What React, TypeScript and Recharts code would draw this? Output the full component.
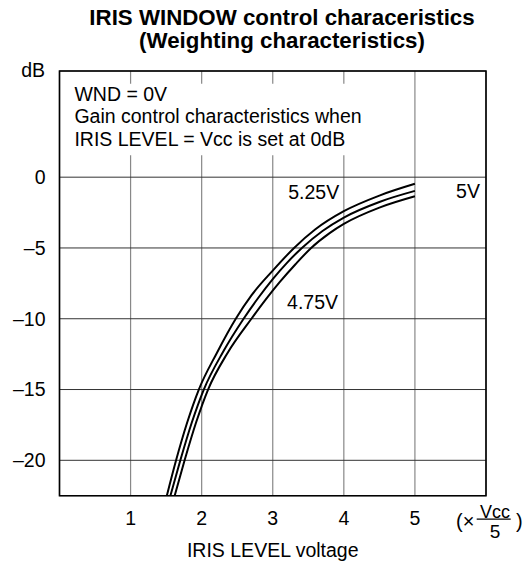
import React from 'react';
import { LineChart, Line, XAxis, YAxis, CartesianGrid, ReferenceArea, ReferenceDot } from 'recharts';

// ---- data ----
const xTicks = [1, 2, 3, 4, 5];
const yTicks = [-20, -15, -10, -5, 0];

const seriesNames = ['5.25V', '5V', '4.75V'];

const v525X = [1.51, 1.64, 1.795, 1.96, 2.21, 2.48, 2.7, 3.0, 3.3, 3.6, 4.0, 4.5, 5.0];
const v525Y = [-22.5, -20, -17.35, -15, -12.45, -10, -8.35, -6.6, -5.0, -3.68, -2.4, -1.3, -0.47];

const v500X = [1.56, 1.7, 1.86, 2.03, 2.3, 2.59, 2.8, 3.0, 3.2, 3.41, 3.7, 4.0, 4.5, 5.0];
const v500Y = [-22.5, -20, -17.35, -15, -12.35, -10, -8.5, -7.2, -6.05, -5.0, -3.8, -2.85, -1.75, -0.97];

const v475X = [1.62, 1.76, 1.92, 2.09, 2.36, 2.7, 2.9, 3.1, 3.32, 3.54, 3.8, 4.0, 4.5, 5.0];
const v475Y = [-22.5, -20, -17.35, -15, -12.45, -10, -8.65, -7.4, -6.15, -5.0, -3.95, -3.3, -2.15, -1.35];

const noteLines = ['WND = 0V', 'Gain control characteristics when', 'IRIS LEVEL = Vcc is set at 0dB'];
const titleLines = ['IRIS WINDOW control characeristics', '(Weighting characteristics)'];

const toPoints = (xs: number[], ys: number[]) => xs.map((x, i) => ({ x, y: ys[i] }));
const d525 = toPoints(v525X, v525Y);
const d500 = toPoints(v500X, v500Y);
const d475 = toPoints(v475X, v475Y);

// ---- style ----
const W = 531;
const H = 562;
const FONT = "'Liberation Sans', Arial, Helvetica, sans-serif";
const FS = 19.5;

const fmt = (v: number) => (v < 0 ? '\u2013' + Math.abs(v) : String(v));

const makeTextLabel = (text: string, anchor: 'start' | 'middle' | 'end') => (props: any) => {
  const vb = props.viewBox || {};
  return (
    <text x={vb.x} y={vb.y} textAnchor={anchor} fontFamily={FONT} fontSize={FS} fill="#000">
      {text}
    </text>
  );
};

const NoteLabel = (props: any) => {
  const vb = props.viewBox || {};
  return (
    <text x={vb.x} y={vb.y} fontFamily={FONT} fontSize={FS} fill="#000">
      {noteLines.map((t, i) => (
        <tspan key={i} x={vb.x} dy={i === 0 ? 0 : 22.5}>
          {t}
        </tspan>
      ))}
    </text>
  );
};

const YLabel = (props: any) => {
  const vb = props.viewBox || {};
  return (
    <text x={vb.x + vb.width - 14.5} y={vb.y + 5.7} textAnchor="end" fontFamily={FONT} fontSize={FS} fill="#000">
      dB
    </text>
  );
};

const XLabel = (props: any) => {
  const vb = props.viewBox || {};
  const right = vb.x + vb.width;
  const fx = right + 9;
  return (
    <g fontFamily={FONT} fill="#000">
      <text x={vb.x + vb.width / 2} y={vb.y + 60.8} textAnchor="middle" fontSize={FS}>
        IRIS LEVEL voltage
      </text>
      <text x={right - 30} y={vb.y + 32} textAnchor="start" fontSize={20}>
        (×
      </text>
      <text x={fx} y={vb.y + 22} textAnchor="middle" fontSize={18}>
        Vcc
      </text>
      <line x1={right - 9.3} x2={right + 24.7} y1={vb.y + 23.5} y2={vb.y + 23.5} stroke="#000" strokeWidth={1.2} />
      <text x={fx} y={vb.y + 42} textAnchor="middle" fontSize={19}>
        5
      </text>
      <text x={right + 30} y={vb.y + 32} textAnchor="start" fontSize={20}>
        )
      </text>
    </g>
  );
};

export default function App() {
  return (
    <div style={{ position: 'absolute', left: 0, top: 0, width: W, height: H, background: '#fff' }}>
      <svg
        width={W}
        height={60}
        style={{ position: 'absolute', left: 0, top: 0, pointerEvents: 'none' }}
      >
        {titleLines.map((t, i) => (
          <text
            key={i}
            x={282}
            y={25 + i * 23.3}
            textAnchor="middle"
            fontFamily={FONT}
            fontWeight="bold"
            fontSize={22.3}
            fill="#000"
          >
            {t}
          </text>
        ))}
      </svg>
      <LineChart width={W} height={H} margin={{ top: 71, right: 45, bottom: 0, left: 0 }}>
        <CartesianGrid horizontal={false} stroke="#888" strokeWidth={1.2} />
        <CartesianGrid vertical={false} stroke="#333" strokeWidth={1} />
        <XAxis
          type="number"
          dataKey="x"
          domain={[0, 6]}
          ticks={xTicks}
          allowDataOverflow
          axisLine={false}
          tickLine={false}
          tickSize={6}
          tickMargin={9}
          height={66.3}
          tick={{ fontSize: FS, fill: '#000', fontFamily: FONT }}
          label={(p: any) => <XLabel {...p} />}
        />
        <YAxis
          type="number"
          dataKey="y"
          domain={[-22.5, 7.5]}
          ticks={yTicks}
          allowDataOverflow
          axisLine={false}
          tickLine={false}
          tickSize={6}
          tickMargin={8}
          width={59.5}
          tickFormatter={fmt}
          tick={{ fontSize: FS, fill: '#000', fontFamily: FONT }}
          label={(p: any) => <YLabel {...p} />}
        />
        <ReferenceArea x1={0.05} x2={4.9} y1={1.55} y2={6.6} fill="#fff" fillOpacity={1} stroke="none" ifOverflow="visible" />
        <Line data={d525} dataKey="y" name={seriesNames[0]} type="monotoneX" stroke="#000" strokeWidth={2} dot={false} isAnimationActive={false} />
        <Line data={d500} dataKey="y" name={seriesNames[1]} type="monotoneX" stroke="#000" strokeWidth={2} dot={false} isAnimationActive={false} />
        <Line data={d475} dataKey="y" name={seriesNames[2]} type="monotoneX" stroke="#000" strokeWidth={2} dot={false} isAnimationActive={false} />
        <ReferenceArea x1={0} x2={6} y1={-22.5} y2={7.5} fill="none" stroke="#000" strokeWidth={1.6} ifOverflow="visible" />
        <ReferenceDot x={0.21} y={5.39} r={0} fill="none" stroke="none" ifOverflow="visible" label={(p: any) => <NoteLabel {...p} />} />
        <ReferenceDot x={3.576} y={-1.555} r={0} fill="none" stroke="none" ifOverflow="visible" label={makeTextLabel(seriesNames[0], 'middle')} />
        <ReferenceDot x={5.747} y={-1.48} r={0} fill="none" stroke="none" ifOverflow="visible" label={makeTextLabel(seriesNames[1], 'middle')} />
        <ReferenceDot x={3.56} y={-9.33} r={0} fill="none" stroke="none" ifOverflow="visible" label={makeTextLabel(seriesNames[2], 'middle')} />
      </LineChart>
    </div>
  );
}
